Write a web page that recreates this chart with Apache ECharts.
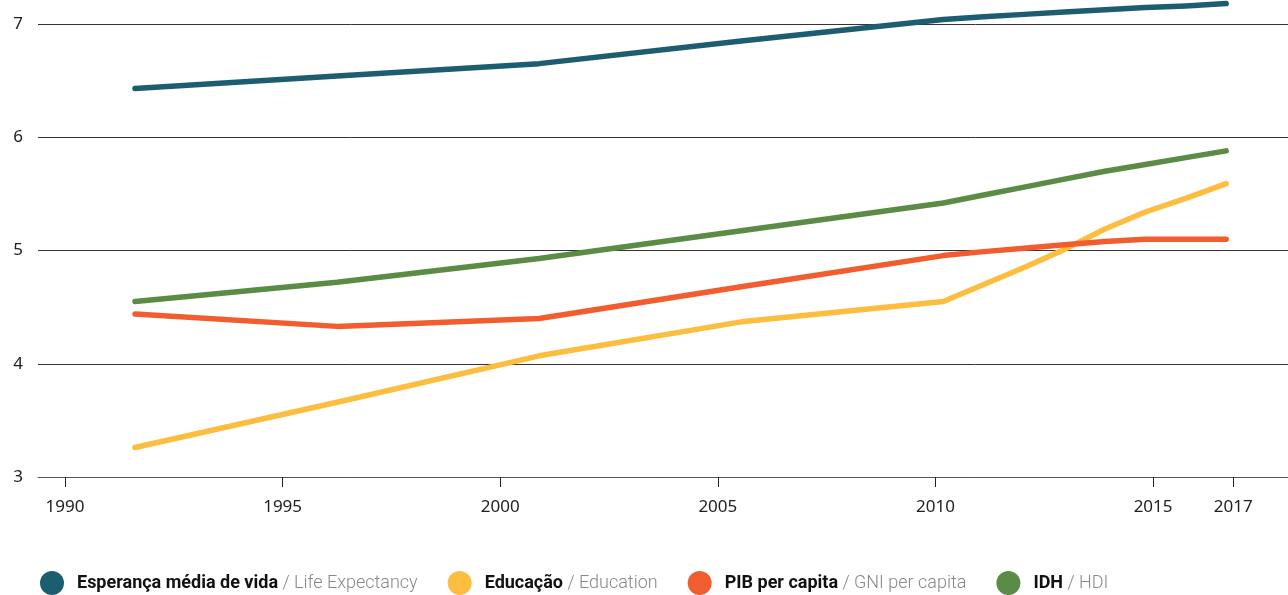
<!DOCTYPE html>
<html>
<head>
<meta charset="utf-8">
<script src="https://cdn.jsdelivr.net/npm/echarts@6/dist/echarts.min.js"></script>
<style>
  html, body { margin: 0; padding: 0; background: #fff; }
  #chart { width: 1288px; height: 595px; }
</style>
</head>
<body>
<div id="chart"></div>
<script>
// Years of observation
const years = [1990, 1995, 2000, 2005, 2010, 2011, 2012, 2013, 2014, 2015, 2016, 2017];

// Index values per series
const lifeExpectancy = [6.43, 6.54, 6.65, 6.85, 7.04, 7.065, 7.085, 7.105, 7.125, 7.145, 7.16, 7.18];
const education      = [3.26, 3.66, 4.07, 4.37, 4.55, 4.70, 4.85, 5.01, 5.19, 5.34, 5.46, 5.59];
const gniPerCapita   = [4.44, 4.33, 4.40, 4.68, 4.955, 4.99, 5.02, 5.05, 5.08, 5.10, 5.10, 5.10];
const hdi            = [4.55, 4.72, 4.93, 5.175, 5.42, 5.49, 5.56, 5.63, 5.70, 5.76, 5.82, 5.88];

// Series names (Portuguese / English)
const namesPt = ['Esperança média de vida', 'Educação', 'PIB per capita', 'IDH'];
const namesEn = ['Life Expectancy', 'Education', 'GNI per capita', 'HDI'];

// Axis tick labels
const xTickLabels = ['1990', '1995', '2000', '2005', '2010', '2015', '2017'];
const xTickPositions = [1990, 1995, 2000, 2005, 2010, 2015, 2016.84];

const colors = ['#1c5e70', '#fdbd3e', '#f15d2f', '#5b8c45'];
const seriesValues = [lifeExpectancy, education, gniPerCapita, hdi];

const chart = echarts.init(document.getElementById('chart'), null, { renderer: 'canvas' });

const series = seriesValues.map((vals, i) => ({
  name: namesPt[i],
  type: 'line',
  xAxisIndex: 1,
  data: years.map((y, k) => [y, vals[k]]),
  showSymbol: false,
  symbol: 'circle',
  clip: false,
  lineStyle: { color: colors[i], width: 5.5, cap: 'round', join: 'round' },
  itemStyle: { color: colors[i] },
  emphasis: { disabled: true },
  animation: false
}));

const option = {
  backgroundColor: '#fff',
  animation: false,
  grid: { left: 38, right: 0, top: 24, bottom: 118, containLabel: false },
  xAxis: [
    {
      type: 'value',
      min: 1989.38,
      max: 2018.10,
      axisLine: { show: true, lineStyle: { color: '#555', width: 1 } },
      axisTick: {
        show: true,
        customValues: xTickPositions,
        length: 10,
        lineStyle: { color: '#222', width: 1 }
      },
      axisLabel: {
        customValues: xTickPositions,
        formatter: v => xTickLabels[xTickPositions.indexOf(v)] ?? '',
        margin: 22,
        fontFamily: 'Noto Sans',
        fontSize: 17,
        color: '#222'
      },
      splitLine: { show: false }
    },
    {
      type: 'value',
      min: 1987.60,
      max: 2018.53,
      show: false
    }
  ],
  yAxis: {
    type: 'value',
    min: 3,
    max: 7,
    interval: 1,
    axisLine: { show: false },
    axisTick: { show: false },
    axisLabel: {
      margin: 15,
      fontFamily: 'Noto Sans',
      fontSize: 17,
      color: '#222'
    },
    splitLine: { show: true, lineStyle: { color: '#333', width: 1 } }
  },
  legend: {
    left: 40,
    top: 571,
    padding: 0,
    icon: 'circle',
    itemWidth: 24,
    itemHeight: 24,
    itemGap: 30,
    selectedMode: false,
    data: namesPt,
    formatter: name => {
      const i = namesPt.indexOf(name);
      return '{pt|' + name + '}{en| / ' + namesEn[i] + '}';
    },
    textStyle: {
      padding: [0, 0, 0, 8],
      rich: {
        pt: { fontFamily: 'Roboto', fontWeight: 'bold', fontSize: 18, color: '#111' },
        en: { fontFamily: 'Roboto', fontWeight: 300, fontSize: 18, color: '#888' }
      }
    }
  },
  series: series
};

chart.setOption(option);
</script>
</body>
</html>
